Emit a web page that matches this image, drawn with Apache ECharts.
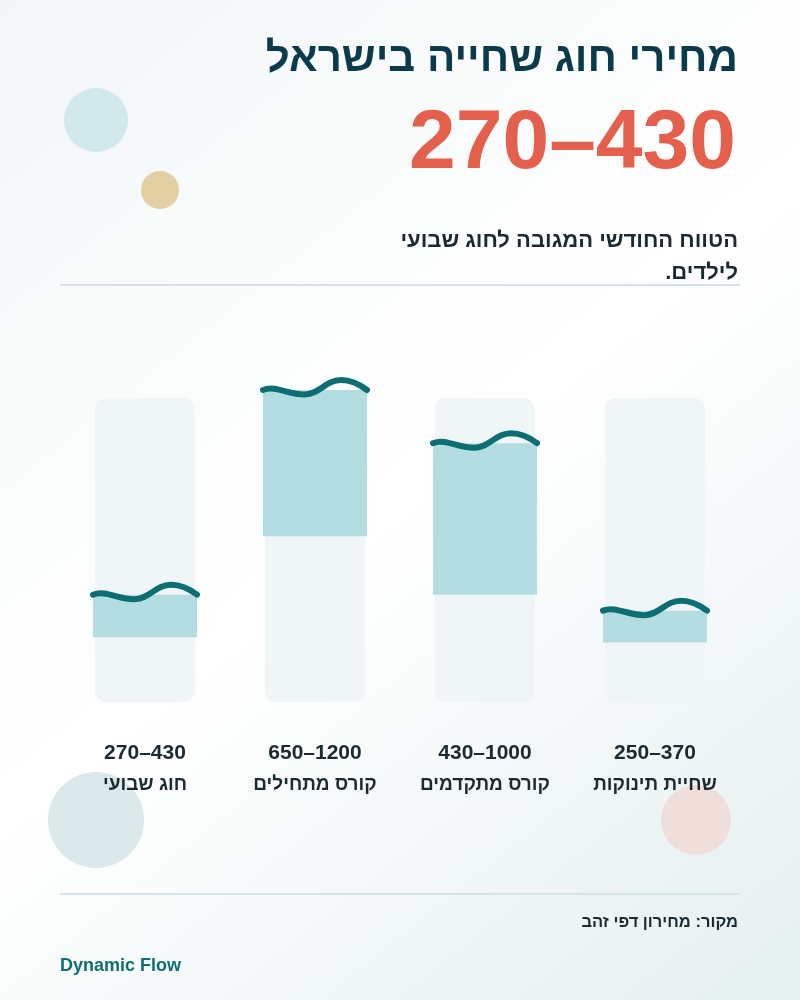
<!DOCTYPE html>
<html><head><meta charset="utf-8">
<script src="https://cdn.jsdelivr.net/npm/echarts@6/dist/echarts.min.js"></script>
<style>html,body{margin:0;padding:0;background:#fff}#c{width:800px;height:1000px}</style>
</head><body><div id="c"></div>
<script>
// Data (right-to-left reading order; x axis is inverted)
const categories = ['שחיית תינוקות', 'קורס מתקדמים', 'קורס מתחילים', 'חוג שבועי'];
const lowValues = [250, 430, 650, 270];
const highValues = [370, 1000, 1200, 430];
const trackValues = [1, 1, 1, 1];
const titleText = 'מחירי חוג שחייה בישראל';
const headlineText = '270–430';
const subtitleLines = ['הטווח החודשי המגובה לחוג שבועי', 'לילדים.\u200F'];
const sourceText = 'מקור: מחירון דפי זהב';
const brandText = 'Dynamic Flow';

const HEB = '"Liberation Sans", Arial, sans-serif';

const chart = echarts.init(document.getElementById('c'), null, {renderer: 'canvas'});

function renderRange(params, api) {
  const idx = api.value(0);
  const top = api.coord([idx, api.value(2)]);
  const bot = api.coord([idx, api.value(1)]);
  const w = api.size([1, 0])[0] * 0.612;
  const x0 = top[0] - w / 2;
  const y = top[1];
  const X = t => x0 + t * w;
  const wave = 'M' + X(0) + ',' + y +
    ' C' + X(0.12) + ',' + (y - 5) + ' ' + X(0.25) + ',' + (y + 5) + ' ' + X(0.4) + ',' + (y + 4.5) +
    ' C' + X(0.55) + ',' + (y + 4) + ' ' + X(0.6) + ',' + (y - 10) + ' ' + X(0.75) + ',' + (y - 10) +
    ' C' + X(0.87) + ',' + (y - 10) + ' ' + X(0.95) + ',' + (y - 4) + ' ' + X(1) + ',' + y;
  return {
    type: 'group',
    children: [
      {type: 'rect', shape: {x: x0, y: y, width: w, height: bot[1] - y},
       style: {fill: '#b3dde1'}},
      {type: 'path', shape: {pathData: wave},
       style: {fill: null, stroke: '#0c6e72', lineWidth: 6, lineCap: 'round', lineJoin: 'round'}}
    ]
  };
}

const option = {
  animation: false,
  backgroundColor: '#ffffff',
  graphic: [
    {type: 'rect', z: -100, shape: {x: 0, y: 0, width: 800, height: 1000},
     style: {fill: new echarts.graphic.LinearGradient(0, 0, 1, 1, [
       {offset: 0, color: '#f2f6f7'}, {offset: 0.5, color: '#ffffff'}, {offset: 1, color: '#e5eff0'}])}},
    {type: 'circle', z: -50, shape: {cx: 96, cy: 120, r: 32}, style: {fill: '#d2e9eb'}},
    {type: 'circle', z: -50, shape: {cx: 160, cy: 190, r: 19}, style: {fill: '#e2cfa3'}},
    {type: 'circle', z: -50, shape: {cx: 96, cy: 820, r: 48}, style: {fill: '#dce9ea'}},
    {type: 'circle', z: -50, shape: {cx: 696, cy: 820, r: 35}, style: {fill: '#efdeda'}},
    {type: 'text', right: 62, top: 38, style: {text: titleText, fill: '#0b3a4a',
      font: 'bold 42px ' + HEB, textAlign: 'right'}},
    {type: 'text', right: 64, top: 103, style: {text: headlineText, fill: '#e4604c',
      font: 'bold 84px ' + HEB, textAlign: 'right'}},
    {type: 'text', right: 62, top: 225, style: {text: subtitleLines.join('\n'), fill: '#1a2a30',
      font: 'bold 22px ' + HEB, textAlign: 'right', lineHeight: 32}},
    {type: 'line', shape: {x1: 60, y1: 285, x2: 740, y2: 285}, style: {stroke: '#d3e3e7', lineWidth: 2}},
    {type: 'line', shape: {x1: 60, y1: 894, x2: 740, y2: 894}, style: {stroke: '#d3e3e7', lineWidth: 2}},
    {type: 'text', right: 62, top: 914, style: {text: sourceText, fill: '#1a2a30',
      font: 'bold 16.5px ' + HEB, textAlign: 'right'}},
    {type: 'text', left: 60, top: 957, style: {text: brandText, fill: '#0f6e72',
      font: 'bold 18px ' + HEB}}
  ],
  grid: [
    {left: 60, right: 60, top: 390, bottom: 291},
    {left: 60, right: 60, top: 398, bottom: 298}
  ],
  xAxis: [
    {type: 'category', gridIndex: 0, data: categories, inverse: true, z: 20,
     axisLine: {show: false}, axisTick: {show: false},
     axisLabel: {margin: 28, interval: 0,
       formatter: (v, i) => '{v|' + lowValues[i] + '–' + highValues[i] + '}\n{c|' + v + '}',
       rich: {
         v: {fontSize: 21, fontWeight: 'bold', fontFamily: HEB, color: '#1a2a30', lineHeight: 32, align: 'center'},
         c: {fontSize: 19, fontWeight: 'bold', fontFamily: HEB, color: '#1a2a30', lineHeight: 32, align: 'center'}
       }}},
    {type: 'category', gridIndex: 1, data: categories, inverse: true, show: false}
  ],
  yAxis: [
    {type: 'value', gridIndex: 0, min: 0, max: 1200, show: false},
    {type: 'value', gridIndex: 1, min: 0, max: 1, show: false}
  ],
  series: [
    {type: 'bar', xAxisIndex: 1, yAxisIndex: 1, data: trackValues, barWidth: 100, z: 1,
     itemStyle: {color: '#f0f5f7', borderRadius: 11}, silent: true},
    {type: 'custom', xAxisIndex: 0, yAxisIndex: 0, z: 5, renderItem: renderRange,
     encode: {x: 0, y: [1, 2]},
     data: categories.map((c, i) => [i, lowValues[i], highValues[i]])}
  ]
};
chart.setOption(option);
</script></body></html>
